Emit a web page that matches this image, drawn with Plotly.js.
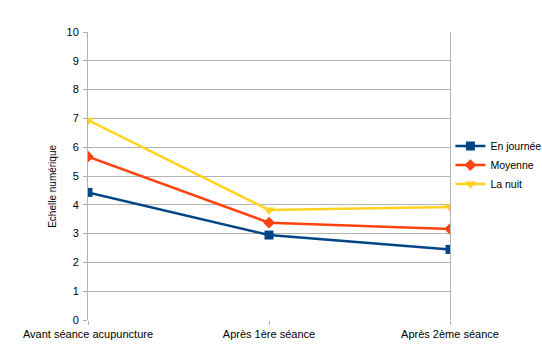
<!DOCTYPE html>
<html>
<head>
<meta charset="utf-8">
<script src="https://cdn.plot.ly/plotly-3.0.1.min.js"></script>
<style>html,body{margin:0;padding:0;background:#fff;}#chart{width:542px;height:355px;}</style>
</head>
<body>
<div id="chart"></div>
<script>
const categories = ["Avant séance acupuncture", "Après 1ère séance", "Après 2ème séance"];
const enJournee = [4.43, 2.95, 2.45];
const moyenne = [5.67, 3.38, 3.16];
const laNuit = [6.94, 3.82, 3.92];
const yTicks = [0,1,2,3,4,5,6,7,8,9,10];

const font = {family: "Liberation Sans, Arial, sans-serif", size: 11, color: "#000"};
const traces = [
  {x: categories, y: enJournee, name: "En journée", type: "scatter", mode: "lines+markers",
   line: {color: "#004586", width: 2.5}, marker: {symbol: "square", size: 9, color: "#004586"}},
  {x: categories, y: moyenne, name: "Moyenne", type: "scatter", mode: "lines+markers",
   line: {color: "#ff420e", width: 2.5}, marker: {symbol: "diamond", size: 9, color: "#ff420e"}},
  {x: categories, y: laNuit, name: "La nuit", type: "scatter", mode: "lines+markers",
   line: {color: "#ffd320", width: 2.5}, marker: {symbol: "triangle-down", size: 10, color: "#ffd320"}}
];
const layout = {
  width: 542, height: 355,
  margin: {l: 88, r: 92, t: 32, b: 35},
  paper_bgcolor: "#fff", plot_bgcolor: "#fff",
  font: font,
  showlegend: true,
  legend: {xref: "container", yref: "container", x: 0.831, y: 0.535, xanchor: "left", yanchor: "middle",
           font: {family: font.family, size: 10.5, color: "#000"},
           tracegroupgap: 0, itemwidth: 30, bgcolor: "rgba(0,0,0,0)"},
  xaxis: {type: "category", range: [0, 2], showgrid: false, zeroline: false,
          ticks: "outside", ticklen: 4, tickcolor: "#b3b3b3", showline: false,
          tickfont: font},
  yaxis: {range: [0, 10], tickvals: yTicks, showgrid: true, gridcolor: "#b3b3b3", gridwidth: 1,
          zeroline: false, showline: true, linecolor: "#b3b3b3", linewidth: 1, mirror: true,
          ticks: "outside", ticklen: 4, tickcolor: "#b3b3b3", tickfont: font, ticklabelstandoff: 2},
  annotations: [{text: "Echelle numérique", textangle: -90, showarrow: false,
                 xref: "paper", yref: "paper", x: -0.099, y: 0.463, xanchor: "center", yanchor: "middle",
                 font: {family: font.family, size: 10, color: "#000"}}]
};
Plotly.newPlot("chart", traces, layout, {displayModeBar: false, staticPlot: true});
</script>
</body>
</html>
